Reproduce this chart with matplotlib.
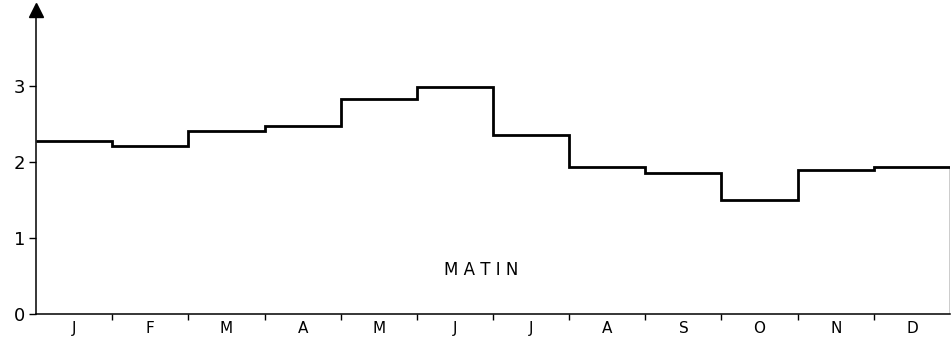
import numpy as np
import matplotlib.pyplot as plt

# monthly values (morning)
months = ['J', 'F', 'M', 'A', 'M', 'J', 'J', 'A', 'S', 'O', 'N', 'D']
matin = [2.28, 2.21, 2.41, 2.47, 2.83, 2.99, 2.36, 1.94, 1.86, 1.50, 1.90, 1.93]
y_ticks = [0, 1, 2, 3]

plt.rcParams['font.family'] = ['DejaVu Sans']

fig = plt.figure(figsize=(9.51, 3.44), dpi=100)
ax = fig.add_axes([36 / 951, 30 / 344, 914 / 951, 304 / 344])

edges = np.arange(0, len(months) + 1)
ax.stairs(matin, edges, baseline=None, color='black', linewidth=2.0)
ax.vlines(len(months), 0, matin[-1], color='black', linewidth=1.0)

ax.set_xlim(0, len(months))
ax.set_ylim(0, 4)

for side in ['top', 'right']:
    ax.spines[side].set_visible(False)
ax.spines['left'].set_linewidth(1.1)
ax.spines['bottom'].set_linewidth(1.1)

# arrow head on the y axis
ax.plot(0, 1, marker='^', color='black', markersize=10, transform=ax.transAxes,
        clip_on=False)

ax.set_yticks(y_ticks)
ax.set_yticklabels([str(t) for t in y_ticks], fontsize=13)
ax.tick_params(axis='y', direction='out', length=5, width=1, pad=3)

# boundaries between months as ticks, month letters centred
ax.set_xticks(edges[1:-1])
ax.set_xticklabels([])
ax.tick_params(axis='x', which='major', direction='out', length=4, width=1)
ax.set_xticks(edges[:-1] + 0.5, minor=True)
ax.set_xticklabels(months, minor=True, fontsize=11)
ax.tick_params(axis='x', which='minor', length=0, pad=5)

ax.text(5.84, 0.58, 'M A T I N', fontsize=12, ha='center', va='center')

fig.savefig('out.png', dpi=100)
